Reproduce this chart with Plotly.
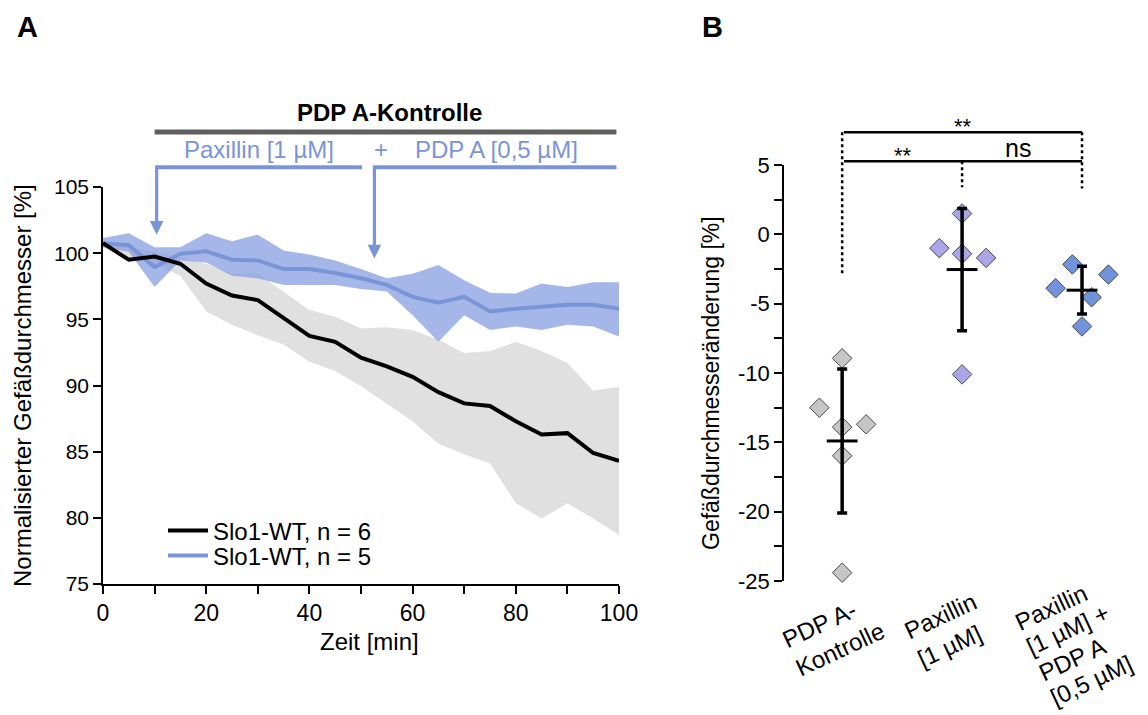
import numpy as np
import plotly.graph_objects as go

# ---------------- data ----------------
# Panel A: time course
time_min = [0, 5, 10, 15, 20, 25, 30, 35, 40, 45, 50, 55, 60, 65, 70, 75, 80, 85, 90, 95, 100]
ctrl_mean = [100.75, 99.5, 99.75, 99.2, 97.7, 96.8, 96.45, 95.1, 93.75, 93.3, 92.1, 91.45,
             90.65, 89.5, 88.65, 88.45, 87.3, 86.3, 86.4, 84.9, 84.3]
ctrl_upper = [100.9, 100.45, 100.1, 99.7, 99.2, 98.45, 98.45, 97.1, 95.7, 95.2, 94.3, 94.4,
              94.2, 93.45, 92.45, 92.6, 93.3, 92.6, 91.7, 89.6, 89.9]
ctrl_lower = [100.45, 99.6, 99.2, 98.3, 95.6, 94.6, 93.8, 93.1, 91.8, 91.1, 89.95, 88.6,
              87.3, 85.6, 84.8, 84.1, 81.1, 79.95, 81.1, 79.95, 78.7]
pax_mean = [100.75, 100.6, 98.95, 99.95, 100.15, 99.5, 99.45, 98.8, 98.8, 98.5, 98.1, 97.6,
            96.7, 96.25, 96.7, 95.6, 95.8, 95.95, 96.1, 96.1, 95.8]
pax_upper = [101.15, 101.5, 100.45, 100.45, 101.5, 100.9, 101.4, 100.2, 99.9, 99.45, 98.8, 98.1,
             98.45, 99.1, 97.95, 97.0, 96.95, 97.7, 97.45, 97.8, 97.8]
pax_lower = [100.45, 100.1, 97.45, 99.45, 99.3, 98.3, 98.1, 97.6, 97.6, 97.6, 97.3, 97.1,
             95.3, 93.3, 95.3, 94.2, 94.45, 94.2, 94.6, 94.45, 93.7]
legend_names = ["Slo1-WT, n = 6", "Slo1-WT, n = 5"]
x_ticks_A = [0, 20, 40, 60, 80, 100]
y_ticks_A = [75, 80, 85, 90, 95, 100, 105]

# Panel B: change in diameter per group
categories = [["PDP A-", "Kontrolle"],
              ["Paxillin", "[1 µM]"],
              ["Paxillin", "[1 µM] +", "PDP A", "[0,5 µM]"]]
grp_ctrl = [-8.94, -12.5, -13.9, -13.7, -15.97, -24.4]
grp_pax = [1.5, -1.0, -1.4, -1.7, -10.1]
grp_combo = [-2.17, -3.89, -2.9, -4.54, -6.64]
y_ticks_B = [-25, -20, -15, -10, -5, 0, 5]

# horizontal jitter of the single points (layout only)
jit_ctrl = [0, -0.19, 0, 0.2, 0, 0]
jit_pax = [0, -0.19, 0, 0.2, 0]
jit_combo = [-0.08, -0.22, 0.22, 0.08, 0]

# ---------------- layout helpers ----------------
W, H = 1148, 715
FONT = "Liberation Sans, Arial, sans-serif"
BLUE = "#7a94d8"
BLUE_BAND = "rgba(130,155,225,0.72)"
GRAY_BAND = "#e0e0e0"


def px(x):
    return x / W


def py(y):
    return 1 - y / H


XR_A = [0, 100]
YR_A = [75, 105]
XR_B = [-0.485, 2.25]
YR_B = [-25, 5]


def dom(v, r):
    return (v - r[0]) / (r[1] - r[0])


fig = go.Figure()

# ---------------- Panel A ----------------
fig.add_trace(go.Scatter(x=time_min + time_min[::-1], y=ctrl_upper + ctrl_lower[::-1],
                         fill="toself", fillcolor=GRAY_BAND, line=dict(width=0),
                         mode="lines", showlegend=False, hoverinfo="skip",
                         xaxis="x", yaxis="y"))
fig.add_trace(go.Scatter(x=time_min + time_min[::-1], y=pax_upper + pax_lower[::-1],
                         fill="toself", fillcolor=BLUE_BAND, line=dict(width=0),
                         mode="lines", showlegend=False, hoverinfo="skip",
                         xaxis="x", yaxis="y"))
fig.add_trace(go.Scatter(x=time_min, y=pax_mean, mode="lines", name=legend_names[1],
                         line=dict(color=BLUE, width=4), legend="legend2",
                         xaxis="x", yaxis="y"))
fig.add_trace(go.Scatter(x=time_min, y=ctrl_mean, mode="lines", name=legend_names[0],
                         line=dict(color="black", width=4), legend="legend",
                         xaxis="x", yaxis="y"))

# ---------------- Panel B ----------------
groups = [grp_ctrl, grp_pax, grp_combo]
jits = [jit_ctrl, jit_pax, jit_combo]
fills = ["#c6c6c6", "#aaa6e8", "#7093dc"]
for i, (g, j, c) in enumerate(zip(groups, jits, fills)):
    fig.add_trace(go.Scatter(x=[i + d for d in j], y=g, mode="markers",
                             marker=dict(symbol="diamond", size=15, color=c,
                                         line=dict(color="#4a4a4a", width=1)),
                             showlegend=False, cliponaxis=False,
                             xaxis="x2", yaxis="y2"))

means = [float(np.mean(g)) for g in groups]
sds = [float(np.std(g, ddof=1)) for g in groups]
fig.add_trace(go.Scatter(x=[0, 1, 2], y=means, mode="markers",
                         marker=dict(symbol="line-ew", size=22,
                                     line=dict(color="black", width=3)),
                         error_y=dict(type="data", array=sds, color="black",
                                      thickness=3.5, width=5),
                         showlegend=False, cliponaxis=False,
                         xaxis="x2", yaxis="y2"))

axis_common = dict(showline=True, linecolor="black", linewidth=1.5, ticks="outside",
                   ticklen=8, tickwidth=1.5, tickcolor="black", showgrid=False,
                   zeroline=False, fixedrange=True, automargin=False)

legend_common = dict(xanchor="left", yanchor="middle", bgcolor="rgba(0,0,0,0)",
                     font=dict(size=24), itemwidth=40, borderwidth=0)

fig.update_layout(
    template="none",
    width=W, height=H,
    paper_bgcolor="white", plot_bgcolor="white",
    margin=dict(l=0, r=0, t=0, b=0, pad=0, autoexpand=False),
    font=dict(family=FONT, color="black", size=21),
    xaxis=dict(domain=[px(103), px(619)], range=XR_A, tickvals=x_ticks_A,
               minor=dict(dtick=10, ticks="outside", ticklen=8, tickwidth=1.5, tickcolor="black"),
               tickfont=dict(size=23), anchor="y", **axis_common),
    yaxis=dict(domain=[py(584), py(187)], range=YR_A, tickvals=y_ticks_A,
               tickfont=dict(size=21), anchor="x", **axis_common),
    xaxis2=dict(domain=[px(784), px(1112)], range=XR_B, visible=False, anchor="y2",
                fixedrange=True, automargin=False),
    yaxis2=dict(domain=[py(581), py(165)], range=YR_B, tickvals=y_ticks_B,
                ticktext=[str(v) for v in y_ticks_B],
                minor=dict(dtick=2.5, ticks="outside", ticklen=8, tickwidth=1.5, tickcolor="black"),
                tickfont=dict(size=22), anchor="x2", **axis_common),
    legend=dict(x=px(163), y=py(531), **legend_common),
    legend2=dict(x=px(163), y=py(556), **legend_common),
    showlegend=True,
)

shapes = []
annotations = []

# panel labels
for lab, xx in [("A", 27), ("B", 712)]:
    annotations.append(dict(text="<b>%s</b>" % lab, x=px(xx), y=py(27), xref="paper", yref="paper",
                            xanchor="center", yanchor="middle", showarrow=False,
                            font=dict(size=29, family="Liberation Sans Narrow, " + FONT)))

# axis titles
annotations.append(dict(text="Normalisierter Gefäßdurchmesser [%]", x=px(23), y=py(386),
                        xref="paper", yref="paper", xanchor="center", yanchor="middle",
                        textangle=-90, showarrow=False, font=dict(size=24)))
annotations.append(dict(text="Zeit [min]", x=px(369), y=py(641), xref="paper", yref="paper",
                        xanchor="center", yanchor="middle", showarrow=False, font=dict(size=24)))
annotations.append(dict(text="Gefäßdurchmesseränderung [%]", x=px(711), y=py(383),
                        xref="paper", yref="paper", xanchor="center", yanchor="middle",
                        textangle=-90, showarrow=False, font=dict(size=23)))


def ann_a(text, xv, yv, **kw):
    d = dict(text=text, x=dom(xv, XR_A), y=dom(yv, YR_A), xref="x domain", yref="y domain",
             xanchor="center", yanchor="middle", showarrow=False)
    d.update(kw)
    return d


def ann_b(text, xv, yv, **kw):
    d = dict(text=text, x=dom(xv, XR_B), y=dom(yv, YR_B), xref="x2 domain", yref="y2 domain",
             xanchor="center", showarrow=False)
    d.update(kw)
    return d


# panel A treatment annotations
annotations.append(ann_a("<b>PDP A-Kontrolle</b>", 55.5, 110.6, font=dict(size=24)))
shapes.append(dict(type="line", xref="x domain", yref="y domain",
                   x0=dom(10, XR_A), x1=dom(99.5, XR_A), y0=dom(109.15, YR_A), y1=dom(109.15, YR_A),
                   line=dict(color="#5f5f5f", width=5)))
annotations.append(ann_a("Paxillin [1 µM]", 30.2, 107.8, font=dict(size=24, color=BLUE)))
annotations.append(ann_a("+", 53.8, 107.8, font=dict(size=24, color=BLUE)))
annotations.append(ann_a("PDP A [0,5 µM]", 76.2, 107.8, font=dict(size=24, color=BLUE)))
for xs, xe, tip in [(10.4, 50.2, 101.4), (52.6, 99.5, 99.6)]:
    shapes.append(dict(type="line", xref="x domain", yref="y domain",
                       x0=dom(xs - 0.3, XR_A), x1=dom(xe, XR_A),
                       y0=dom(106.5, YR_A), y1=dom(106.5, YR_A),
                       line=dict(color=BLUE, width=4)))
    annotations.append(dict(text="", x=xs, y=tip, ax=xs, ay=106.6, xref="x", yref="y",
                            axref="x", ayref="y", showarrow=True, arrowhead=2,
                            arrowsize=0.85, arrowwidth=3.2, arrowcolor=BLUE, standoff=0))

# panel B category labels (rotated, left aligned lines)
ANG = 25
sin_a, cos_a = np.sin(np.radians(ANG)), np.cos(np.radians(ANG))
for i, lines in enumerate(categories[:2]):
    annotations.append(dict(text="<br>".join(lines), x=i, y=py([586, 585][i]), xref="x2",
                            yref="paper", xanchor="center", yanchor="top",
                            xshift=[-9, -15][i], textangle=-ANG, showarrow=False,
                            align="left", font=dict(size=24)))
# third label: one annotation per line with tighter line spacing
LINE_GAP = 28
x0_lab, y0_lab = 1008, 638
for k, line in enumerate(categories[2]):
    annotations.append(dict(text=line, x=px(x0_lab + k * LINE_GAP * sin_a),
                            y=py(y0_lab + k * LINE_GAP * cos_a), xref="paper", yref="paper",
                            xanchor="left", yanchor="bottom", textangle=-ANG,
                            showarrow=False, font=dict(size=24)))

# panel B significance brackets
br_hi, br_lo = 7.36, 5.27
for (x0, x1, yy) in [(0, 2, br_hi), (0, 2, br_lo)]:
    shapes.append(dict(type="line", xref="x2 domain", yref="y2 domain",
                       x0=dom(x0 + 0.015, XR_B), x1=dom(x1, XR_B),
                       y0=dom(yy, YR_B), y1=dom(yy, YR_B),
                       line=dict(color="black", width=2.5)))
for (xx, ytop, ybot) in [(0, br_hi, -3.0), (1, br_lo, 3.4), (2, br_hi, 3.3)]:
    shapes.append(dict(type="line", xref="x2 domain", yref="y2 domain",
                       x0=dom(xx, XR_B), x1=dom(xx, XR_B),
                       y0=dom(ytop, YR_B), y1=dom(ybot, YR_B),
                       line=dict(color="black", width=2.5, dash="dot")))
annotations.append(ann_b("**", 1.01, br_hi, yanchor="bottom", yshift=-9, font=dict(size=22)))
annotations.append(ann_b("**", 0.51, br_lo, yanchor="bottom", yshift=-9, font=dict(size=22)))
annotations.append(ann_b("ns", 1.47, br_lo, yanchor="bottom", yshift=-3, font=dict(size=25)))

fig.update_layout(shapes=shapes, annotations=annotations)

fig.write_html("out.html", config={"displayModeBar": False},
               post_script="document.body.style.margin='0px';")
